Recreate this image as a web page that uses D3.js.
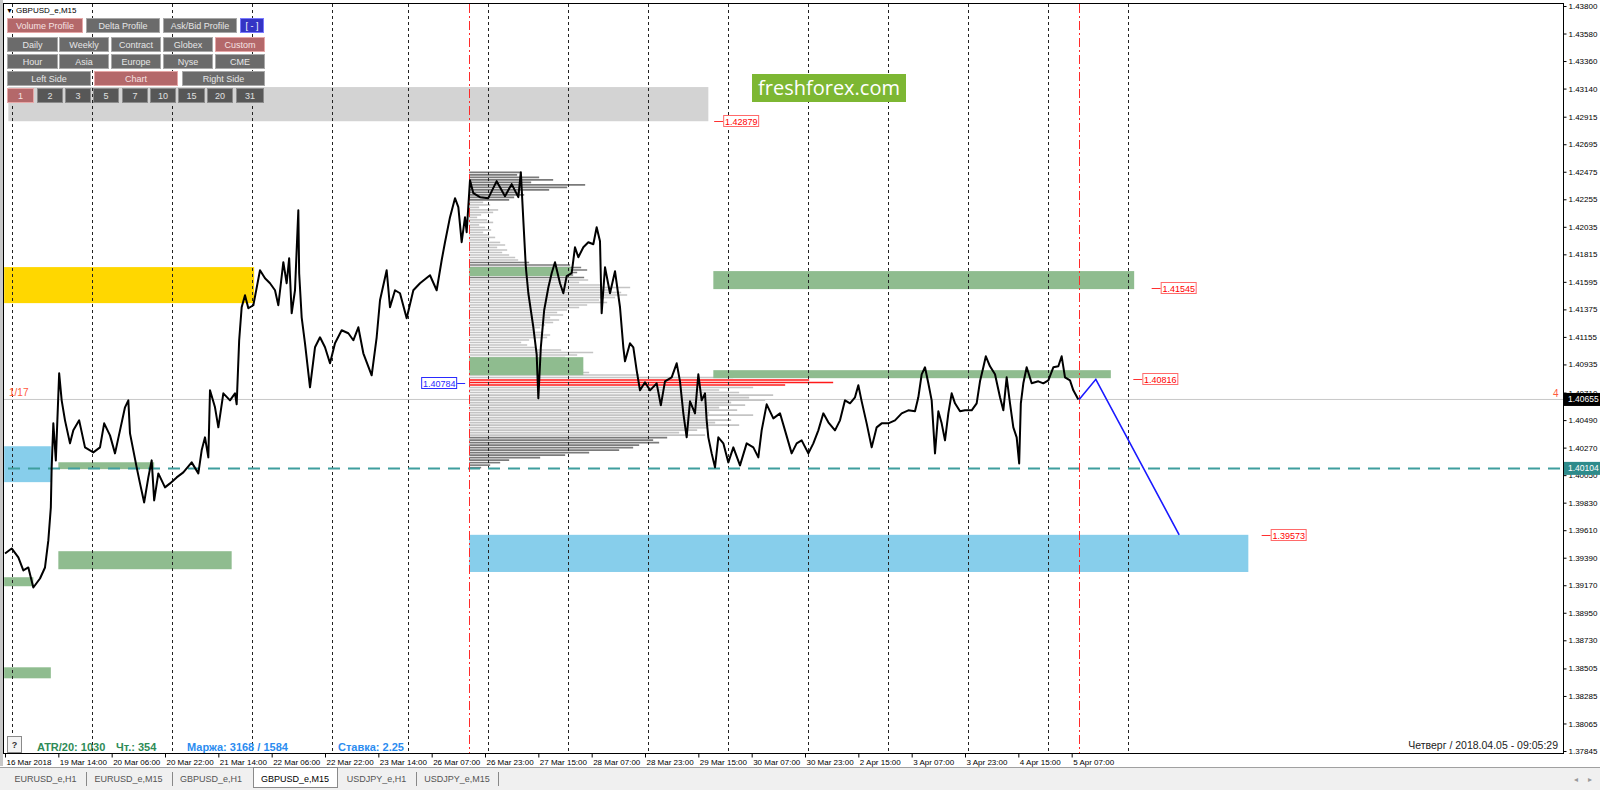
<!DOCTYPE html>
<html><head><meta charset="utf-8">
<script src="https://cdn.jsdelivr.net/npm/d3@7"></script>
<style>
html,body{margin:0;padding:0;background:#fff;overflow:hidden}
svg{display:block;font-family:"Liberation Sans",Arial,sans-serif}
</style></head><body>
<svg id="c" width="1600" height="790"></svg>
<script>
// ---------------- DATA ----------------
const priceBar = [0,8,16,22,28,34,42,48,52,55,56,58,61,65,68,72,78,82,89,96,106,114,119,126,132,138,144,148,150,154,158,162,167,172,176,179,184,192,198,206,214,224,232,236,240,244,246,252,256,262,270,276,278,281,284,288,292,298,306,312,318,324,328,334,338,341,344,348,352,353,356,360,366,372,378,384,390,396,404,412,418,424,430,440,446,450,458,462,468,474,482,490,498,510,518,524,528,534,540,544,548,552,554,558,562,570,580,590,600,608,616,619,622,625,628,634,638,640,643,647,652,656,660,666,670,674,680,684,688,694,700,706,710,714,716,720,726,732,738,742,744,750,754,758,762,768,774,782,787,792,800,806,810,814,818,822,828,832,836,840,842,844,848,852,856,862,868,874,882,890,898,904,908,914,922,930,936,944,950,956,964,970,976,982,988,996,1002,1008,1014,1020,1024,1028,1034,1040,1046,1052,1060,1068,1076,1084,1092,1096,1100,1104,1108,1112,1116,1120,1124,1128,1132,1136,1140,1146,1152,1160,1166,1170,1174,1177,1182,1188,1194,1198,1202,1206,1210,1214,1217,1219,1222,1226,1232,1240,1246,1252,1258,1264,1268,1272,1278,1282,1288];
const priceClose = [1.39424,1.39464,1.39392,1.39288,1.39312,1.39152,1.39224,1.39312,1.39528,1.39792,1.40112,1.40464,1.40168,1.40864,1.40648,1.40488,1.40304,1.40408,1.40488,1.40272,1.40232,1.40272,1.40464,1.40368,1.40224,1.40408,1.40592,1.40648,1.40384,1.40248,1.40112,1.39984,1.39832,1.40032,1.40168,1.39848,1.40064,1.39952,1.39984,1.40032,1.40072,1.40152,1.40064,1.40248,1.40352,1.40192,1.40728,1.40592,1.40432,1.40704,1.40648,1.40704,1.40616,1.41128,1.41392,1.41488,1.41384,1.41408,1.41688,1.41624,1.41584,1.41528,1.41408,1.41752,1.41584,1.41784,1.41344,1.41528,1.42168,1.41664,1.41312,1.41104,1.40752,1.41072,1.41152,1.41072,1.40944,1.41104,1.41208,1.41184,1.41128,1.41232,1.41024,1.40848,1.41152,1.41448,1.41688,1.41392,1.41528,1.41504,1.41304,1.41528,1.41584,1.41648,1.41528,1.41768,1.41912,1.42112,1.42264,1.42192,1.41912,1.42112,1.41992,1.42408,1.42304,1.42272,1.42264,1.42400,1.42280,1.42376,1.42272,1.42472,1.42088,1.41712,1.41504,1.41232,1.41016,1.40664,1.41072,1.41368,1.41550,1.41664,1.41752,1.41584,1.41504,1.41640,1.41664,1.41872,1.41792,1.41872,1.41912,1.41896,1.42032,1.41920,1.41344,1.41712,1.41504,1.41680,1.41392,1.41072,1.40960,1.41104,1.41072,1.40888,1.40728,1.40792,1.40728,1.40784,1.40608,1.40800,1.40832,1.40944,1.40800,1.40544,1.40352,1.40640,1.40544,1.40856,1.40648,1.40704,1.40488,1.40352,1.40224,1.40112,1.40352,1.40304,1.40152,1.40272,1.40128,1.40304,1.40272,1.40192,1.40408,1.40616,1.40504,1.40544,1.40408,1.40224,1.40304,1.40328,1.40224,1.40304,1.40408,1.40544,1.40472,1.40408,1.40488,1.40648,1.40624,1.40672,1.40768,1.40640,1.40464,1.40272,1.40432,1.40464,1.40464,1.40488,1.40544,1.40568,1.40560,1.40672,1.40856,1.40912,1.40784,1.40648,1.40224,1.40560,1.40464,1.40328,1.40544,1.40704,1.40624,1.40560,1.40568,1.40568,1.40624,1.40800,1.40912,1.41000,1.40920,1.40856,1.40672,1.40568,1.40832,1.40624,1.40432,1.40352,1.40144,1.40624,1.40784,1.40912,1.40784,1.40800,1.40784,1.40808,1.40912,1.40920,1.41000,1.40832,1.40808,1.40728,1.40655];

const forecastBar = [1289, 1309, 1409];
const forecastPrice = [1.40655, 1.40816, 1.39573];

// zones: [startBar, endBar, topPrice, bottomPrice]
const grayZones = [[4, 844, 1.43152, 1.42879]];
const yellowZones = [[-1, 299, 1.41713, 1.41425]];
const blueZones = [[-1, 55, 1.40281, 1.39994], [557, 1492, 1.39573, 1.39276]];
const greenZones = [
  [64, 179, 1.40153, 1.40098],
  [64, 272, 1.39442, 1.39298],
  [-1, 34, 1.39234, 1.39162],
  [-1, 55, 1.38514, 1.38426],
  [557, 679, 1.41713, 1.41641],
  [557, 694, 1.40993, 1.40849],
  [850, 1355, 1.41681, 1.41537],
  [850, 1327, 1.40889, 1.40825]
];

// volume profile (row volumes from the top price down)
const profileStartBar = 557;
const profileTop = 1.4247;
const profileStep = 0.0002;
const profilePOC = 1.40784;
const profileVol = [51,48,70,84,62,116,98,80,51,55,45,40,14,21,10,29,24,12,8,18,24,10,16,22,14,20,26,18,31,36,28,38,33,40,46,49,60,101,112,118,108,104,115,119,110,131,161,140,152,158,146,130,138,118,110,98,88,94,81,90,84,76,71,66,74,81,78,60,52,58,66,92,124,108,96,104,88,110,98,114,120,170,264,340,364,316,284,250,270,304,280,296,262,276,250,268,240,284,238,262,246,270,238,228,210,236,198,184,190,170,164,150,120,96,71,40,31,21,12];
const profileDarkBands = [[1.4225, 1.4250], [1.4163, 1.4177], [1.4000, 1.4035]];

// price tags: [bar, price]
const redTags = [[851, 1.42879], [1376, 1.41545], [1354, 1.40816], [1508, 1.39573]];
const blueTags = [[557, 1.40784]];

const daySeparatorBars = [8,104,200,296,392,484,580,676,772,868,964,1060,1156,1252,1348];
const redVLineBars = [557, 1289];

const xTickBars = [0,64,128,192,256,320,384,448,512,576,640,704,768,832,896,960,1024,1088,1152,1216,1280];
const xTickLabels = ["16 Mar 2018","19 Mar 14:00","20 Mar 06:00","20 Mar 22:00","21 Mar 14:00","22 Mar 06:00","22 Mar 22:00","23 Mar 14:00","26 Mar 07:00","26 Mar 23:00","27 Mar 15:00","28 Mar 07:00","28 Mar 23:00","29 Mar 15:00","30 Mar 07:00","30 Mar 23:00","2 Apr 15:00","3 Apr 07:00","3 Apr 23:00","4 Apr 15:00","5 Apr 07:00"];
const yTicks = [1.43800,1.43580,1.43360,1.43140,1.42915,1.42695,1.42475,1.42255,1.42035,1.41815,1.41595,1.41375,1.41155,1.40935,1.40710,1.40490,1.40270,1.40050,1.39830,1.39610,1.39390,1.39170,1.38950,1.38730,1.38505,1.38285,1.38065,1.37845];

const currentPrice = 1.40655;
const levelPrice = 1.40104;

const tabs = ["EURUSD_e,H1","EURUSD_e,M15","GBPUSD_e,H1","GBPUSD_e,M15","USDJPY_e,H1","USDJPY_e,M15"];
const activeTab = "GBPUSD_e,M15";

// ---------------- DRAW ----------------
const svg = d3.select("#c");
const x = d3.scaleLinear().domain([0, 1200]).range([5, 1005]);
const y = d3.scaleLinear().domain([1.37845, 1.438]).range([751, 6]);

svg.append("rect").attr("width", 1600).attr("height", 790).attr("fill", "#fff");
svg.append("rect").attr("x", 0).attr("y", 0).attr("width", 3).attr("height", 766).attr("fill", "#c8c8c8");

svg.append("defs").append("clipPath").attr("id", "clip")
  .append("rect").attr("x", 4).attr("y", 4).attr("width", 1559).attr("height", 749);
const plot = svg.append("g").attr("clip-path", "url(#clip)");

function zones(arr, color) {
  plot.append("g").selectAll("rect").data(arr).join("rect")
    .attr("x", d => x(d[0])).attr("width", d => x(d[1]) - x(d[0]))
    .attr("y", d => y(d[2])).attr("height", d => y(d[3]) - y(d[2]))
    .attr("fill", color);
}
zones(grayZones, "#d3d3d3");
zones(yellowZones, "#ffd700");
zones(blueZones, "#87ceeb");

// volume profile
const vW = d3.scaleLinear().domain([0, 100]).range([0, 100]);
const prof = profileVol.map((v, i) => ({ p: profileTop - i * profileStep, v }));
plot.append("g").selectAll("line").data(prof).join("line")
  .attr("x1", x(profileStartBar)).attr("x2", d => x(profileStartBar) + vW(d.v))
  .attr("y1", d => y(d.p)).attr("y2", d => y(d.p))
  .attr("stroke-width", 1.6)
  .attr("stroke", d => {
    if (Math.abs(d.p - profilePOC) < 0.0003) return "#ff1a1a";
    const dark = profileDarkBands.some(b => d.p >= b[0] && d.p <= b[1]);
    return dark ? "#7a7a7a" : "#c4c4c4";
  });

zones(greenZones, "#8fbc8f");

// current price line
plot.append("line").attr("x1", 4).attr("x2", 1563)
  .attr("y1", y(currentPrice)).attr("y2", y(currentPrice))
  .attr("stroke", "#c8c8c8").attr("stroke-width", 1);

// day separators
plot.append("g").selectAll("line").data(daySeparatorBars).join("line")
  .attr("x1", d => Math.round(x(d)) + 0.5).attr("x2", d => Math.round(x(d)) + 0.5)
  .attr("y1", 4).attr("y2", 753)
  .attr("stroke", "#222").attr("stroke-width", 1).attr("stroke-dasharray", "3,3");

// teal level
plot.append("line").attr("x1", 8).attr("x2", 1563)
  .attr("y1", y(levelPrice)).attr("y2", y(levelPrice))
  .attr("stroke", "#3f9e9e").attr("stroke-width", 2).attr("stroke-dasharray", "12,8");

// red dash-dot verticals
plot.append("g").selectAll("line").data(redVLineBars).join("line")
  .attr("x1", d => Math.round(x(d)) + 0.5).attr("x2", d => Math.round(x(d)) + 0.5)
  .attr("y1", 4).attr("y2", 753)
  .attr("stroke", "#ff2a2a").attr("stroke-width", 1).attr("stroke-dasharray", "9,3,2,3");

// price line
const pts = priceBar.map((b, i) => [b, priceClose[i]]);
plot.append("path").datum(pts)
  .attr("d", d3.line().x(d => x(d[0])).y(d => y(d[1])))
  .attr("fill", "none").attr("stroke", "#000").attr("stroke-width", 2).attr("stroke-linejoin", "round");

// forecast
plot.append("path").datum(forecastBar.map((b, i) => [b, forecastPrice[i]]))
  .attr("d", d3.line().x(d => x(d[0])).y(d => y(d[1])))
  .attr("fill", "none").attr("stroke", "#1a1aff").attr("stroke-width", 1.6);

// red tags
const rt = plot.append("g").selectAll("g").data(redTags).join("g")
  .attr("transform", d => `translate(${x(d[0])},${Math.round(y(d[1]))})`);
rt.append("line").attr("x1", 0).attr("x2", 9).attr("y1", 0.5).attr("y2", 0.5).attr("stroke", "#ff3030");
rt.append("rect").attr("x", 9.5).attr("y", -5.5).attr("width", 35).attr("height", 11)
  .attr("fill", "#fff").attr("stroke", "#ff6a6a");
rt.append("text").attr("x", 27).attr("y", 3.5).attr("text-anchor", "middle")
  .attr("font-size", 9).attr("fill", "#ff0000").text(d => d[1].toFixed(5));

// blue tags
const bt = plot.append("g").selectAll("g").data(blueTags).join("g")
  .attr("transform", d => `translate(${x(d[0])},${Math.round(y(d[1]))})`);
bt.append("line").attr("x1", -12).attr("x2", -4).attr("y1", 0.5).attr("y2", 0.5).attr("stroke", "#2a2aff");
bt.append("rect").attr("x", -47.5).attr("y", -5.5).attr("width", 35).attr("height", 11)
  .attr("fill", "#fff").attr("stroke", "#2a2aff");
bt.append("text").attr("x", -30).attr("y", 3.5).attr("text-anchor", "middle")
  .attr("font-size", 9).attr("fill", "#2a2aff").text(d => d[1].toFixed(5));

// little red/orange texts
svg.append("text").attr("x", 9).attr("y", 396).attr("font-size", 10).attr("fill", "#ff5a3c").text("1/17");
svg.append("text").attr("x", 1553).attr("y", 397).attr("font-size", 10).attr("fill", "#ff5a3c").text("4");

// logo
svg.append("rect").attr("x", 752).attr("y", 74).attr("width", 154).attr("height", 28).attr("fill", "#7db733");
svg.append("text").attr("x", 829).attr("y", 95).attr("text-anchor", "middle")
  .attr("font-family", "'Open Sans','Noto Sans',sans-serif").attr("font-size", 20).attr("fill", "#fff").text("freshforex.com");

// frame
svg.append("rect").attr("x", 3.5).attr("y", 3.5).attr("width", 1560).attr("height", 750)
  .attr("fill", "none").attr("stroke", "#000");

// axes
const xAxis = svg.append("g").attr("transform", "translate(0,753.5)")
  .call(d3.axisBottom(x).tickValues(xTickBars).tickFormat((d, i) => xTickLabels[i]).tickSize(4).tickSizeOuter(0));
xAxis.select(".domain").remove();
xAxis.selectAll("text").attr("text-anchor", "start").attr("dx", 1).attr("y", 6)
  .attr("font-size", 8).attr("font-family", "'Liberation Sans',Arial,sans-serif").attr("fill", "#000");
xAxis.selectAll("line").attr("stroke", "#000");

const yAxis = svg.append("g").attr("transform", "translate(1563.5,0)")
  .call(d3.axisRight(y).tickValues(yTicks).tickFormat(d3.format(".5f")).tickSize(3).tickSizeOuter(0));
yAxis.select(".domain").remove();
yAxis.selectAll("text").attr("x", 5).attr("font-size", 8).attr("font-family", "'Liberation Sans',Arial,sans-serif").attr("fill", "#000");
yAxis.selectAll("line").attr("stroke", "#000");

function priceBox(p, fill) {
  const g = svg.append("g").attr("transform", `translate(1564,${y(p)})`);
  g.append("rect").attr("x", 0).attr("y", -6.5).attr("width", 36).attr("height", 13).attr("fill", fill);
  g.append("text").attr("x", 4).attr("y", 3).attr("font-size", 8.5).attr("fill", "#fff").text(p.toFixed(5));
}
priceBox(currentPrice, "#000");
priceBox(levelPrice, "#2e8b8b");

// bottom info texts
svg.append("rect").attr("x", 7.5).attr("y", 736.5).attr("width", 14).attr("height", 16).attr("fill", "#f4f4f4").attr("stroke", "#8a8a8a");
svg.append("text").attr("x", 14.5).attr("y", 748).attr("text-anchor", "middle").attr("font-size", 9).attr("font-weight", "bold").attr("fill", "#333").text("?");
const info = [["ATR/20: 1030", 37, "#2e8b57"], ["Чт.: 354", 116, "#2e8b57"], ["Маржа: 3168 / 1584", 187, "#2b8cf0"], ["Ставка: 2.25", 338, "#2b8cf0"]];
svg.append("g").selectAll("text").data(info).join("text")
  .attr("x", d => d[1]).attr("y", 751).attr("font-size", 11).attr("font-weight", "bold")
  .attr("fill", d => d[2]).text(d => d[0]);
svg.append("text").attr("x", 1558).attr("y", 749).attr("text-anchor", "end").attr("font-size", 10.5)
  .attr("fill", "#222").text("Четверг / 2018.04.05 - 09:05:29");

// tab bar
svg.append("rect").attr("x", 0).attr("y", 767).attr("width", 1600).attr("height", 23).attr("fill", "#f0f0f0");
svg.append("line").attr("x1", 0).attr("x2", 1600).attr("y1", 767.5).attr("y2", 767.5).attr("stroke", "#a0a0a0");
const tabCenters = [45.5, 128.5, 211, 295, 376.5, 457];
const tabSeps = [86, 172, 416, 498];
svg.append("rect").attr("x", 253.5).attr("y", 767.5).attr("width", 84).attr("height", 20).attr("fill", "#fff").attr("stroke", "#8a8a8a");
svg.append("g").selectAll("text").data(tabs).join("text")
  .attr("x", (d, i) => tabCenters[i]).attr("y", 782).attr("text-anchor", "middle")
  .attr("font-size", 9).attr("fill", d => d === activeTab ? "#000" : "#555").text(d => d);
svg.append("g").selectAll("line").data(tabSeps).join("line")
  .attr("x1", d => d + 0.5).attr("x2", d => d + 0.5).attr("y1", 772).attr("y2", 786).attr("stroke", "#888");
svg.append("text").attr("x", 1574).attr("y", 782).attr("font-size", 8).attr("fill", "#999").text("◂");
svg.append("text").attr("x", 1588).attr("y", 782).attr("font-size", 8).attr("fill", "#999").text("▸");

// header and buttons
svg.append("text").attr("x", 6).attr("y", 13).attr("font-size", 7).attr("fill", "#000").text("▼");
svg.append("text").attr("x", 16).attr("y", 13).attr("font-size", 8).attr("fill", "#000").text("GBPUSD_e,M15");
const btnRows = [
  [18, [["Volume Profile", 7, 82, "r"], ["Delta Profile", 86, 159, "g"], ["Ask/Bid Profile", 163, 236, "g"], ["[ - ]", 240, 263, "b"]]],
  [37, [["Daily", 7, 57, "g"], ["Weekly", 59, 108, "g"], ["Contract", 111, 160, "g"], ["Globex", 163, 212, "g"], ["Custom", 215, 264, "r"]]],
  [54, [["Hour", 7, 57, "g"], ["Asia", 59, 108, "g"], ["Europe", 111, 160, "g"], ["Nyse", 163, 212, "g"], ["CME", 215, 264, "g"]]],
  [71, [["Left Side", 7, 90, "g"], ["Chart", 94, 177, "r"], ["Right Side", 182, 264, "g"]]],
  [88, [["1", 7, 33, "r"], ["2", 37, 62, "d"], ["3", 65, 90, "d"], ["5", 93, 118, "d"], ["7", 122, 147, "d"], ["10", 150, 175, "d"], ["15", 178, 204, "d"], ["20", 207, 232, "d"], ["31", 236, 263, "d"]]]
];
const bStyle = { r: ["#b4686a", "#e6a8a8", "#f6e2e2"], g: ["#6b6b6b", "#a8a8a8", "#e6e6e6"], d: ["#575757", "#8c8c8c", "#e0e0e0"], b: ["#3434c4", "#7a7aff", "#fff"] };
btnRows.forEach(([yy, row]) => {
  const g = svg.append("g");
  g.selectAll("rect").data(row).join("rect")
    .attr("x", d => d[1] + 0.5).attr("y", yy + 0.5).attr("width", d => d[2] - d[1]).attr("height", 14)
    .attr("fill", d => bStyle[d[3]][0]).attr("stroke", d => bStyle[d[3]][1]);
  g.selectAll("text").data(row).join("text")
    .attr("x", d => (d[1] + d[2]) / 2 + 0.5).attr("y", yy + 11).attr("text-anchor", "middle")
    .attr("font-size", 9).attr("fill", d => bStyle[d[3]][2]).text(d => d[0]);
});
</script>
</body></html>
